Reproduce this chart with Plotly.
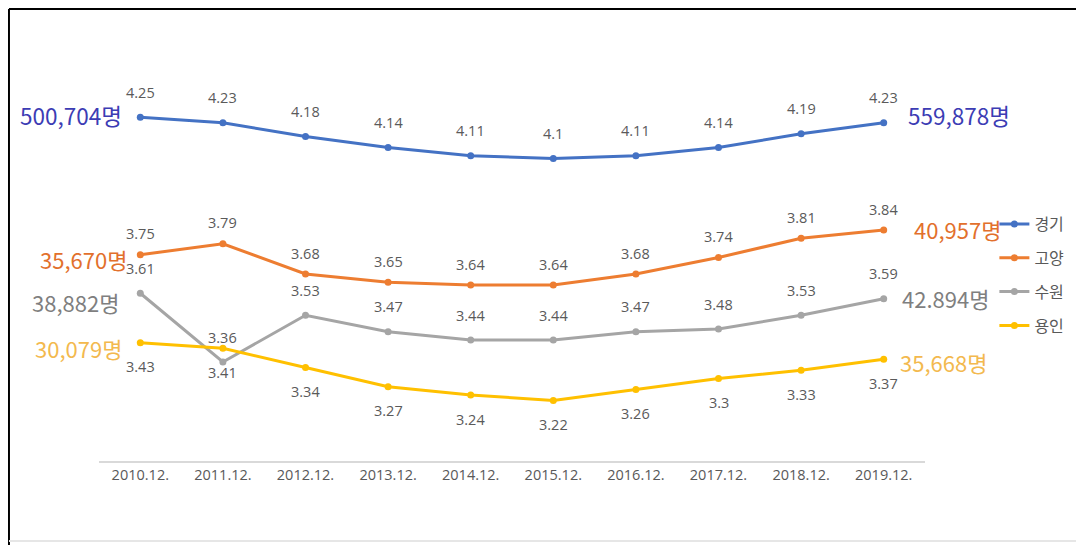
import plotly.graph_objects as go

categories = ["2010.12.", "2011.12.", "2012.12.", "2013.12.", "2014.12.",
              "2015.12.", "2016.12.", "2017.12.", "2018.12.", "2019.12."]
series_names = ["경기", "고양", "수원", "용인"]
gyeonggi = [4.25, 4.23, 4.18, 4.14, 4.11, 4.10, 4.11, 4.14, 4.19, 4.23]
goyang = [3.75, 3.79, 3.68, 3.65, 3.64, 3.64, 3.68, 3.74, 3.81, 3.84]
suwon = [3.61, 3.36, 3.53, 3.47, 3.44, 3.44, 3.47, 3.48, 3.53, 3.59]
yongin = [3.43, 3.41, 3.34, 3.27, 3.24, 3.22, 3.26, 3.30, 3.33, 3.37]
start_labels = ["500,704명", "35,670명", "38,882명", "30,079명"]
end_labels = ["559,878명", "40,957명", "42.894명", "35,668명"]

values = [gyeonggi, goyang, suwon, yongin]
line_colors = ["#4472C4", "#ED7D31", "#A5A5A5", "#FFC000"]
text_colors = ["#3C3CB4", "#E2702C", "#7F7F7F", "#F3B94E"]
text_sizes = [22.5, 22, 22, 22]
label_shift = [25, 21, 25, -24]
start_shift = [(-16, 2), (-11, -4), (-19, -9), (-16, -5)]
end_shift = [(22, 8), (28, 1), (16, 1), (14, -3)]

fig = go.Figure()
x = list(range(len(categories)))
for i, name in enumerate(series_names):
    fig.add_trace(go.Scatter(
        x=x, y=values[i], name=name, mode="lines+markers",
        line=dict(color=line_colors[i], width=3),
        marker=dict(color=line_colors[i], size=7),
        legendgroup=name,
    ))
    for j, v in enumerate(values[i]):
        fig.add_annotation(x=j, y=v, xref="x", yref="y", text=f"{v:g}",
                           showarrow=False, yshift=label_shift[i],
                           font=dict(family="Open Sans", size=14.5, color="#5A5A5A"))
    fig.add_annotation(x=0, y=values[i][0], xref="x", yref="y", text=start_labels[i],
                       showarrow=False, xanchor="right",
                       xshift=start_shift[i][0], yshift=start_shift[i][1],
                       font=dict(family="Noto Sans CJK KR", size=text_sizes[i], color=text_colors[i]))
    fig.add_annotation(x=len(categories) - 1, y=values[i][-1], xref="x", yref="y",
                       text=end_labels[i], showarrow=False, xanchor="left",
                       xshift=end_shift[i][0], yshift=end_shift[i][1],
                       font=dict(family="Noto Sans CJK KR", size=text_sizes[i], color=text_colors[i]))

# frame
fig.add_shape(type="line", xref="paper", yref="paper", x0=-0.109, x1=1.19, y0=1.0273, y1=1.0273,
              line=dict(color="black", width=2))
fig.add_shape(type="line", xref="paper", yref="paper", x0=-0.109, x1=-0.109, y0=1.0273, y1=-0.2,
              line=dict(color="black", width=2))
fig.add_shape(type="line", xref="paper", yref="paper", x0=-0.109, x1=1.189, y0=-0.1818, y1=-0.1818,
              line=dict(color="#E6E6E6", width=2))
fig.add_shape(type="line", xref="paper", yref="paper", x0=1.189, x1=1.189, y0=1.0273, y1=-0.1818,
              line=dict(color="#EEEEEE", width=1.5))

fig.update_layout(
    width=1076, height=537, autosize=False,
    margin=dict(l=91, r=159, t=13, b=84),
    paper_bgcolor="white", plot_bgcolor="white",
    showlegend=True,
    legend=dict(x=1.084, y=0.577, xanchor="left", yanchor="top",
                font=dict(family="Noto Sans CJK KR", size=16, color="#595959"),
                tracegroupgap=10, bgcolor="rgba(0,0,0,0)"),
    xaxis=dict(tickmode="array", tickvals=x, ticktext=categories, range=[-0.5, 9.5],
               showgrid=False, zeroline=False, showline=True, linecolor="#D9D9D9",
               linewidth=2, ticks="", tickfont=dict(family="Open Sans", size=14.5, color="#595959")),
    yaxis=dict(range=[3.0, 4.6], visible=False, showgrid=False, zeroline=False),
)

fig.write_html("out.html")
